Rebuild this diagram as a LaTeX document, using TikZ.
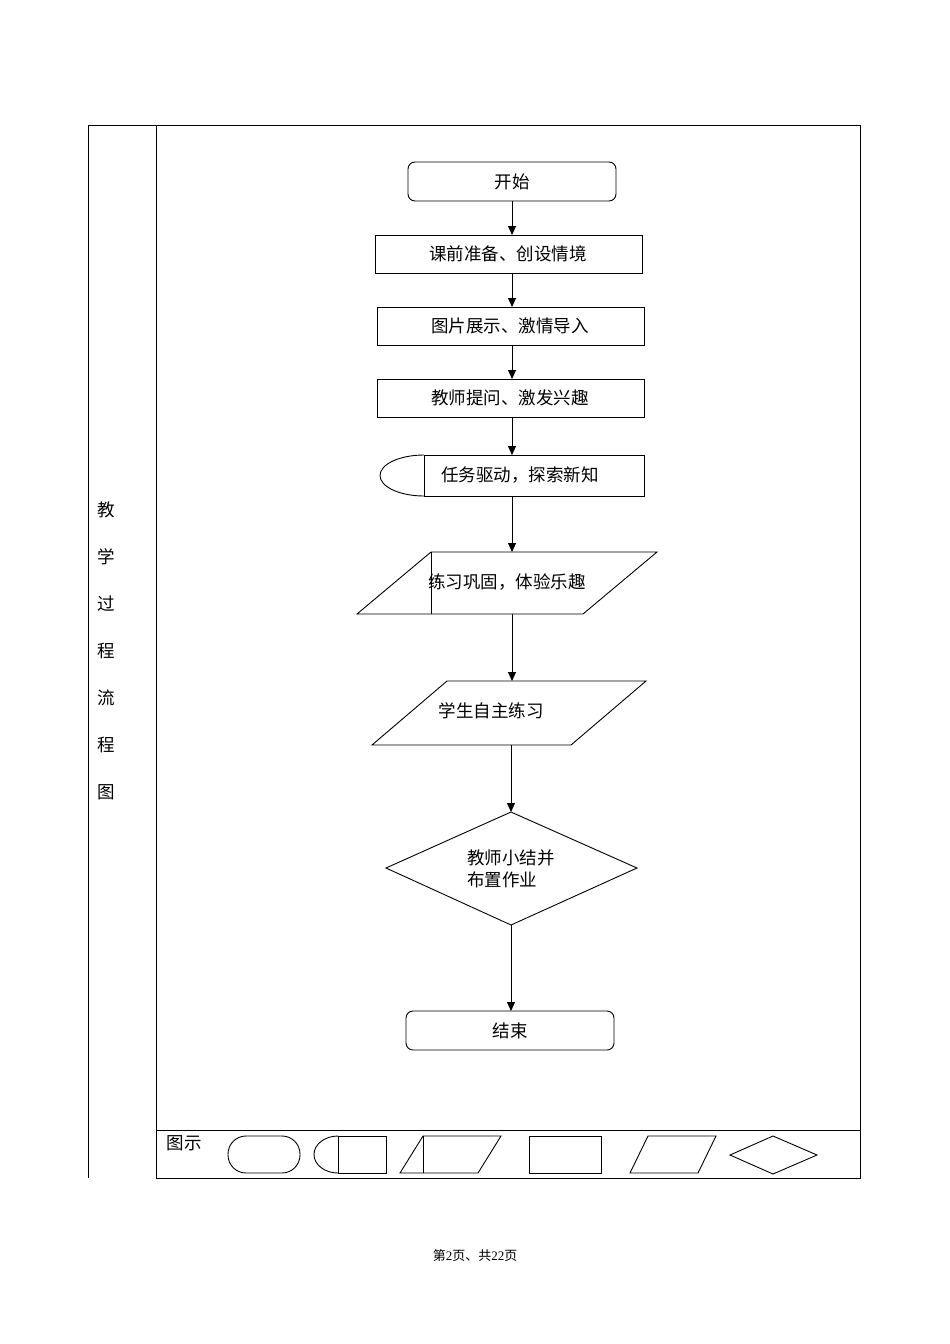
\documentclass[tikz,border=0pt]{standalone}
\usepackage{fontspec}
\setmainfont{Liberation Serif}
\newfontfamily\cjk{Noto Sans CJK SC}
\usetikzlibrary{arrows.meta}
\begin{document}
\begin{tikzpicture}[x=1pt,y=-1pt,line width=0.9pt,
  lbl/.style={font=\cjk\fontsize{17.5}{22}\selectfont,inner sep=0pt},
  arr/.style={-{Triangle[length=9pt,width=8pt]}}]
\useasboundingbox (0,0) rectangle (950,1344);
% table
\draw[line width=0.7pt] (88,125) -- (860,125) -- (860,1178) -- (156,1178);
\draw[line width=0.7pt] (88,125) -- (88,1178);
\draw[line width=0.7pt] (156,125) -- (156,1178);
\draw[line width=0.7pt] (156,1130) -- (860,1130);
\foreach \t/\y in {教/510,学/557,过/604,程/651,流/698,程/745,图/792}
  \node[lbl] at (106,\y) {\t};
% flow
\draw[rounded corners=7pt] (408,162) rectangle (616,201);
\node[lbl] (start) at (512,181.5) {开始};
\draw (375,235) rectangle (642,273);
\node[lbl] (b1) at (508,254) {课前准备、创设情境};
\draw (377,307) rectangle (644,345);
\node[lbl] (b2) at (510,326) {图片展示、激情导入};
\draw (377,379) rectangle (644,417);
\node[lbl] (b3) at (510,398) {教师提问、激发兴趣};
\draw (424,455) -- (644,455) -- (644,496) -- (424,496) -- cycle;
\draw (424,455) arc[start angle=90,end angle=270,x radius=44pt,y radius=20.5pt];
\node[lbl] (t) at (520,475) {任务驱动，探索新知};
\draw (431,552) -- (657,552) -- (583,614) -- (357,614) -- cycle;
\draw (431,552) -- (431,614);
\node[lbl] (p1) at (507,582) {练习巩固，体验乐趣};
\draw (447,681) -- (646,681) -- (571,745) -- (372,745) -- cycle;
\node[lbl] (p2) at (491,711) {学生自主练习};
\draw (386,868) -- (511,812) -- (637,868) -- (511,925) -- cycle;
\node[lbl,align=left] (d) at (511,869) {教师小结并\\布置作业};
\draw[rounded corners=7pt] (406,1011) rectangle (614,1050);
\node[lbl] (e) at (510,1030.5) {结束};
% arrows
\coordinate (a0) at (512,201); \coordinate (a0e) at (512,235);
\coordinate (a1) at (512,273); \coordinate (a1e) at (512,307);
\coordinate (a2) at (512,345); \coordinate (a2e) at (512,379);
\coordinate (a3) at (512,417); \coordinate (a3e) at (512,455);
\coordinate (a4) at (512,496); \coordinate (a4e) at (512,552);
\coordinate (a5) at (512,614); \coordinate (a5e) at (512,681);
\coordinate (a6) at (511,745); \coordinate (a6e) at (511,812);
\coordinate (a7) at (511,925); \coordinate (a7e) at (511,1011);
\foreach \i in {0,...,7} \draw[arr] (a\i) -- (a\i e);
% legend
\node[lbl] (lg) at (184,1143) {图示};
\draw[rounded corners=18pt] (228,1136) rectangle (300,1173);
\draw (338,1136) -- (386,1136) -- (386,1173) -- (338,1173) -- cycle;
\draw (338,1136) arc[start angle=90,end angle=270,x radius=24pt,y radius=18.5pt];
\draw (423,1136) -- (501,1136) -- (478,1173) -- (400,1173) -- cycle;
\draw (423,1136) -- (423,1173);
\draw (529,1136) rectangle (601,1173);
\draw (648,1136) -- (716,1136) -- (698,1173) -- (630,1173) -- cycle;
\draw (730,1155) -- (773,1136) -- (817,1155) -- (773,1174) -- cycle;
% footer
\node[font=\fontsize{13}{15}\selectfont,inner sep=0pt] (ft) at (475,1256) {{\cjk 第}2{\cjk 页、共}22{\cjk 页}};
\end{tikzpicture}
\end{document}
